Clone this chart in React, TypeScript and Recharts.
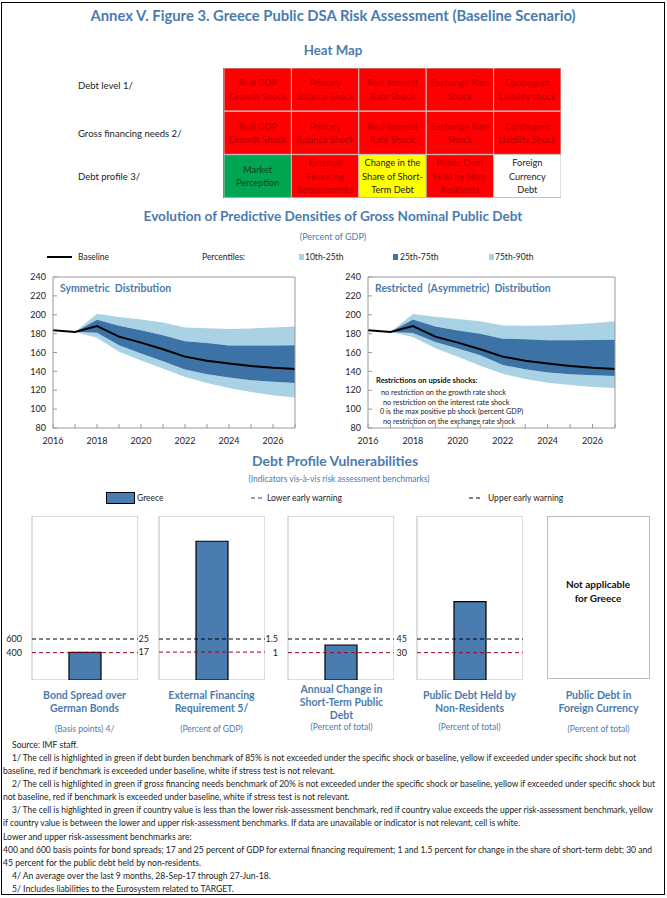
import React from 'react';
import {
  BarChart, Bar, Cell, LabelList, XAxis, YAxis, ReferenceArea, ReferenceLine,
  ComposedChart, Area, Line,
} from 'recharts';

const FONT = 'Lato, "Open Sans", sans-serif';
const BLUE = '#4b7bae';
const BAR = '#4a7cb0';
const DARK_BAND = '#3d72a6';
const LIGHT_BAND = '#a9d3e4';

// heat map
const heatRows = ['Debt level 1/', 'Gross financing needs 2/', 'Debt profile 3/'];
const heatCells = [
  ['Real GDP\nGrowth Shock', 'Primary\nBalance Shock', 'Real Interest\nRate Shock', 'Exchange Rate\nShock', 'Contingent\nLiability shock'],
  ['Real GDP\nGrowth Shock', 'Primary\nBalance Shock', 'Real Interest\nRate Shock', 'Exchange Rate\nShock', 'Contingent\nLiability Shock'],
  ['Market\nPerception', 'External\nFinancing\nRequirements', 'Change in the\nShare of Short-\nTerm Debt', 'Public Debt\nHeld by Non-\nResidents', 'Foreign\nCurrency\nDebt'],
];
const heatStatus = [
  ['red', 'red', 'red', 'red', 'red'],
  ['red', 'red', 'red', 'red', 'red'],
  ['green', 'red', 'yellow', 'red', 'white'],
];
const statusFill: Record<string, string> = { red: '#ff0000', green: '#00a651', yellow: '#ffff00', white: '#ffffff' };
const statusText: Record<string, string> = { red: '#b30000', green: '#173f22', yellow: '#222', white: '#222' };

// fan charts
const years = [2016, 2017, 2018, 2019, 2020, 2021, 2022, 2023, 2024, 2025, 2026, 2027];
const baseline = [183.7, 181.8, 188, 176.8, 170.5, 163.5, 155.6, 151.3, 148.4, 145.7, 143.8, 142.5];
const symP10 = [null, 181.8, 175.6, 160.7, 151.5, 143, 134, 127.8, 122.5, 118.2, 114.7, 112.2];
const symP25 = [null, 181.8, 181, 167.8, 159, 150.8, 142, 137, 133.5, 130.6, 128.9, 127.8];
const symP75 = [null, 181.8, 194.7, 188.3, 183.7, 178.4, 172, 170, 167.4, 167.4, 167.4, 167.8];
const symP90 = [null, 181.8, 201, 197.5, 195, 191.9, 186.5, 185.8, 185, 185.5, 186.5, 187.6];
const resP10 = [null, 181.8, 176.4, 164.5, 155.5, 146, 137.5, 132, 128, 125.5, 123.5, 122.3];
const resP25 = [null, 181.8, 180.6, 171.2, 164.2, 157.2, 146.7, 142.2, 138.7, 137, 136, 135.2];
const resP75 = [null, 181.8, 195, 187.6, 183.4, 180, 174.7, 174, 173, 173, 173.3, 173.6];
const resP90 = [null, 181.8, 200.9, 198, 195.6, 193.2, 188.6, 188.3, 188.6, 189.7, 191, 193.2];
const fanTicks = [80, 100, 120, 140, 160, 180, 200, 220, 240];

// debt profile vulnerabilities
const panelValues = [403, 84.6, 1.28, 86];
const lowerBench = [400, 17, 1, 30];
const upperBench = [600, 25, 1.5, 45];
const axisMax = [2400, 100, 6, 180];
const panelTitles = [
  'Bond Spread over\nGerman Bonds',
  'External Financing\nRequirement 5/',
  'Annual Change in\nShort-Term Public\nDebt',
  'Public Debt Held by\nNon-Residents',
  'Public Debt in\nForeign Currency',
];
const panelUnits = ['(Basis points) 4/', '(Percent of GDP)', '(Percent of total)', '(Percent of total)', '(Percent of total)'];

const notes = [
  'Source: IMF staff.',
  '1/ The cell is highlighted in green if debt burden benchmark of 85% is not exceeded under the specific shock or baseline, yellow if exceeded under specific shock but not',
  'baseline, red if benchmark is exceeded under baseline, white if stress test is not relevant.',
  '2/ The cell is highlighted in green if gross financing needs benchmark of 20% is not exceeded under the specific shock or baseline, yellow if exceeded under specific shock but',
  'not baseline, red if benchmark is exceeded under baseline, white if stress test is not relevant.',
  '3/ The cell is highlighted in green if country value is less  than the lower risk-assessment benchmark, red if country value exceeds the upper risk-assessment benchmark, yellow',
  'if country value is between the lower and upper risk-assessment benchmarks. If data are unavailable or indicator is not relevant, cell is white.',
  'Lower and upper risk-assessment benchmarks are:',
  '400 and 600 basis points for bond spreads; 17 and 25 percent of GDP for external financing requirement; 1 and 1.5 percent for change in the share of short-term debt; 30 and',
  '45 percent for the public debt held by non-residents.',
  '4/ An average over the last 9 months, 28-Sep-17 through 27-Jun-18.',
  '5/ Includes liabilities to the Eurosystem related to TARGET.',
];
const noteIndent = [1, 1, 0, 1, 0, 1, 0, 0, 0, 0, 1, 1];
const noteWidth = [0, 624, 0, 643, 0, 641, 517, 0, 649, 0, 0, 0];

const T = ({ x, y, children, size = 9, bold = false, color = '#222', center = true, lh = 1 }: any) => (
  <div
    style={{
      position: 'absolute', left: x, top: y,
      transform: center ? 'translate(-50%,-50%)' : 'translate(0,-50%)',
      fontSize: size, fontWeight: bold ? 700 : 400, color, whiteSpace: 'pre',
      lineHeight: typeof lh === 'number' && lh < 3 ? lh : `${lh}px`, fontFamily: FONT,
      textAlign: center ? 'center' : 'left',
    }}
  >
    {children}
  </div>
);

const heatData = heatRows.map((row) => ({ row, c0: 1, c1: 1, c2: 1, c3: 1, c4: 1 }));

const RowTick = ({ y, payload, index }: any) => (
  <text x={78} y={y} dy={index === 0 ? -4 : 0} dominantBaseline="central" fontSize={9.5} fill="#222" fontFamily={FONT}>
    {payload.value}
  </text>
);

const heatLabel = (col: number) => (props: any) => {
  const vb = props.viewBox || props;
  const { x, y, width, height } = vb;
  const row = props.index;
  const lines = heatCells[row][col].split('\n');
  const cx = x + width / 2;
  const cy = y + height / 2;
  const step = 13.5;
  return (
    <text textAnchor="middle" fontSize={9.2} fill={statusText[heatStatus[row][col]]} fontFamily={FONT}>
      {lines.map((l, k) => (
        <tspan key={k} x={cx} y={cy + (k - (lines.length - 1) / 2) * step} dominantBaseline="central">{l}</tspan>
      ))}
    </text>
  );
};

const HeatMap = () => (
  <div style={{ position: 'absolute', left: 0, top: 68 }}>
    <BarChart width={561} height={130} data={heatData} layout="vertical" barCategoryGap={0} barGap={0}
      margin={{ top: 0, right: 0, bottom: 0, left: 0 }}>
      <XAxis type="number" domain={[0, 5]} hide />
      <YAxis type="category" dataKey="row" width={224} tickLine={false} axisLine={false} tick={<RowTick />} />
      {[0, 1, 2, 3, 4].map((j) => (
        <Bar key={j} dataKey={`c${j}`} stackId="h" isAnimationActive={false} stroke="#bdbdbd" strokeWidth={1}>
          {heatRows.map((_, i) => <Cell key={i} fill={statusFill[heatStatus[i][j]]} />)}
          <LabelList dataKey={`c${j}`} content={heatLabel(j)} />
        </Bar>
      ))}
      <ReferenceArea x1={0} x2={5} fill="none" fillOpacity={0} stroke="#111" strokeWidth={1.5} ifOverflow="visible" />
    </BarChart>
  </div>
);

const fanData = (p10: any[], p25: any[], p75: any[], p90: any[]) => years.map((year, i) => ({
  year,
  base: baseline[i],
  lo: p10[i] == null ? null : [p10[i], p25[i]],
  mid: p25[i] == null ? null : [p25[i], p75[i]],
  hi: p75[i] == null ? null : [p75[i], p90[i]],
}));

const tickStyle = { fontSize: 9, fill: '#222', fontFamily: FONT };

const FanChart = ({ left, data }: any) => (
  <div style={{ position: 'absolute', left, top: 270 }}>
    <ComposedChart width={left > 100 ? 310 : 305} height={179} data={data} margin={{ top: 7, right: 0, bottom: 0, left: 0 }}>
      <XAxis dataKey="year" type="number" domain={[2016, 2027]} ticks={years} interval={0}
        tickFormatter={(v: number) => (v % 2 === 0 ? String(v) : '')}
        tickSize={-4} tickMargin={14} height={21} stroke="#9a9a9a" tick={tickStyle} />
      <YAxis yAxisId="l" orientation="left" domain={[80, 240]} ticks={fanTicks} interval={0} width={33}
        tickSize={-4} tickMargin={11} stroke="#9a9a9a" tick={tickStyle} />
      <YAxis yAxisId="r" orientation="right" domain={[80, 240]} ticks={fanTicks} interval={0} width={30}
        tickSize={-4} tickMargin={12} stroke="#9a9a9a" tick={tickStyle} />
      <Area yAxisId="l" dataKey="lo" type="linear" stroke="none" fill={LIGHT_BAND} fillOpacity={1} isAnimationActive={false} />
      <Area yAxisId="l" dataKey="hi" type="linear" stroke="none" fill={LIGHT_BAND} fillOpacity={1} isAnimationActive={false} />
      <Area yAxisId="l" dataKey="mid" type="linear" stroke="none" fill={DARK_BAND} fillOpacity={1} isAnimationActive={false} />
      <Line yAxisId="l" dataKey="base" type="linear" stroke="#000" strokeWidth={2} dot={false} isAnimationActive={false} />
      <ReferenceLine yAxisId="l" y={240} stroke="#9a9a9a" />
    </ComposedChart>
  </div>
);

const boxLeft = [31.5, 158.5, 288, 416.5];
const boxW = 106;

const Panel = ({ i }: any) => (
  <div style={{ position: 'absolute', left: boxLeft[i] - 30, top: 516 }}>
    <BarChart width={30 + boxW} height={164} data={[{ name: 'Greece', v: panelValues[i] }]}
      margin={{ top: 0, right: 0, bottom: 0, left: 0 }}>
      <XAxis dataKey="name" type="category" hide />
      <YAxis domain={[0, axisMax[i]]} ticks={[lowerBench[i], upperBench[i]]} interval={0} width={30}
        tickLine={false} axisLine={false} tickMargin={4} tick={tickStyle} allowDataOverflow />
      <ReferenceArea y1={0} y2={axisMax[i]} fill="none" fillOpacity={0} stroke="#bdbdbd" strokeWidth={1} />
      <Bar dataKey="v" fill={BAR} stroke="#000" strokeWidth={1.2} barSize={32} isAnimationActive={false} />
      <ReferenceLine y={upperBench[i]} stroke="#000" strokeDasharray="4 3" strokeWidth={1} />
      <ReferenceLine y={lowerBench[i]} stroke="#a0001e" strokeDasharray="4 3" strokeWidth={1} />
    </BarChart>
  </div>
);

const panelCenters = [84.5, 211.5, 341.5, 469.5, 598.5];
const unitY = [729, 729, 727, 727, 729];

export default function App() {
  const sym = fanData(symP10, symP25, symP75, symP90);
  const res = fanData(resP10, resP25, resP75, resP90);
  return (
    <div style={{ position: 'absolute', left: 0, top: 0, width: 667, height: 898, background: '#fff', fontFamily: FONT }}>
      <style>{'body{margin:0}'}</style>
      <div style={{ position: 'absolute', left: 1, top: 2, width: 664, height: 893, border: '1.5px solid #000', boxSizing: 'border-box' }} />

      <T x={333} y={15} size={14.8} bold color={BLUE}>Annex V. Figure 3. Greece Public DSA Risk Assessment (Baseline Scenario)</T>
      <T x={333} y={51} size={13.3} bold color={BLUE}>Heat Map</T>
      <HeatMap />

      <T x={333} y={217} size={13.6} bold color={BLUE}>Evolution of Predictive Densities of Gross Nominal Public Debt</T>
      <T x={333} y={236} size={9} color={BLUE}>(Percent of GDP)</T>

      <div style={{ position: 'absolute', left: 47, top: 256, width: 25, height: 2, background: '#000' }} />
      <T x={78} y={257} center={false} size={8.5}>Baseline</T>
      <T x={202} y={257} center={false} size={8.5}>Percentiles:</T>
      <div style={{ position: 'absolute', left: 299, top: 254, width: 5, height: 6, background: LIGHT_BAND }} />
      <T x={305} y={257} center={false} size={8.5}>10th-25th</T>
      <div style={{ position: 'absolute', left: 393, top: 254, width: 5, height: 6, background: DARK_BAND }} />
      <T x={400} y={257} center={false} size={8.5}>25th-75th</T>
      <div style={{ position: 'absolute', left: 489, top: 254, width: 5, height: 6, background: LIGHT_BAND }} />
      <T x={495} y={257} center={false} size={8.5}>75th-90th</T>

      <FanChart left={20} data={sym} />
      <FanChart left={335} data={res} />
      <T x={60} y={288} center={false} size={10.5} bold color={BLUE}>Symmetric  Distribution</T>
      <T x={375} y={288} center={false} size={10.5} bold color={BLUE}>Restricted  (Asymmetric)  Distribution</T>
      <T x={376} y={381} center={false} size={7.6} bold color="#111">Restrictions on upside shocks:</T>
      <T x={381} y={393} center={false} size={7.3}>no restriction on the growth rate shock</T>
      <T x={383} y={403} center={false} size={7.3}>no restriction on the interest rate shock</T>
      <T x={380} y={412} center={false} size={7.3}>0 is the max positive pb shock (percent GDP)</T>
      <T x={383} y={422} center={false} size={7.3}>no restriction on the exchange rate shock</T>

      <T x={335} y={461} size={13.9} bold color={BLUE}>Debt Profile Vulnerabilities</T>
      <T x={339} y={479} size={8.5} color={BLUE}>(Indicators vis-à-vis risk assessment benchmarks)</T>

      <div style={{ position: 'absolute', left: 106, top: 492, width: 29, height: 12, background: BAR, border: '1px solid #000', boxSizing: 'border-box' }} />
      <T x={137} y={498} center={false} size={8.5}>Greece</T>
      <svg style={{ position: 'absolute', left: 0, top: 490 }} width={667} height={16}>
        <line x1={251} x2={263} y1={8} y2={8} stroke="#1f3d8a" strokeWidth={1} strokeDasharray="4 3" />
        <line x1={469} x2={482} y1={8} y2={8} stroke="#000" strokeWidth={1} strokeDasharray="4 3" />
      </svg>
      <T x={267} y={498} center={false} size={8.5}>Lower early warning</T>
      <T x={488} y={498} center={false} size={8.5}>Upper early warning</T>

      {[0, 1, 2, 3].map((i) => <Panel key={i} i={i} />)}
      <div style={{ position: 'absolute', left: 547, top: 516, width: 103, height: 163, border: '1px solid #bdbdbd', boxSizing: 'border-box' }} />
      <T x={598} y={591} size={10} bold color="#111" lh={14}>{'Not applicable\nfor Greece'}</T>

      {panelTitles.map((t, i) => (
        <T key={i} x={panelCenters[i]} y={702} size={10.5} bold color={BLUE} lh={13}>{t}</T>
      ))}
      {panelUnits.map((t, i) => (
        <T key={i} x={panelCenters[i]} y={unitY[i]} size={8.5} color={BLUE}>{t}</T>
      ))}

      <svg style={{ position: 'absolute', left: 0, top: 738 }} width={667} height={158}>
        {notes.map((n, i) => (
          <text key={i} x={noteIndent[i] ? 12 : 3} y={6.5 + i * 13.15} dominantBaseline="central"
            fontSize={8.6} fill="#222" fontFamily={FONT}
            {...(noteWidth[i] ? { textLength: noteWidth[i], lengthAdjust: 'spacingAndGlyphs' } : {})}>
            {n}
          </text>
        ))}
      </svg>
    </div>
  );
}
